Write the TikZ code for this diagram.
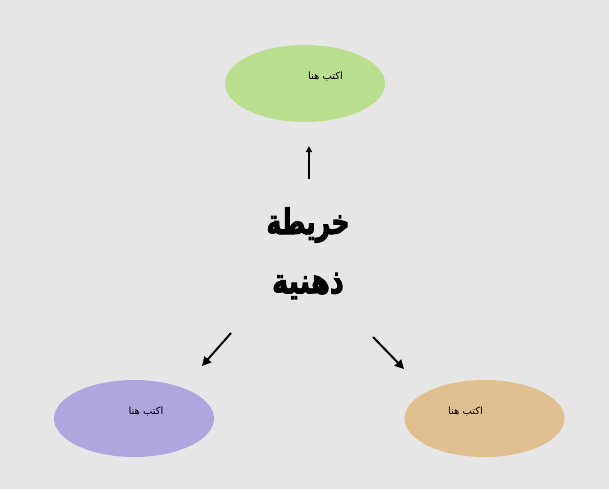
\documentclass[tikz,border=0pt]{standalone}
\usepackage{fontspec}
\usetikzlibrary{arrows.meta,shapes.geometric}
\TeXXeTstate=1
\newfontfamily\arabicfont[Script=Arabic]{DejaVu Sans}
\newfontfamily\arabictitle[Script=Arabic,FakeBold=3]{DejaVu Sans Bold}
\definecolor{bg}{HTML}{E6E6E6}
\definecolor{greenfill}{HTML}{BBDE8F}
\definecolor{purplefill}{HTML}{AEA7DE}
\definecolor{tanfill}{HTML}{DFC090}
\tikzset{
  bubble/.style={ellipse, minimum width=160pt, minimum height=77pt, inner sep=0pt, draw=none},
  smalltext/.style={font=\arabicfont\fontsize{10}{12}\selectfont, inner sep=0pt},
  titletext/.style={font=\arabictitle\fontsize{35}{38}\selectfont, inner sep=0pt},
  arrowline/.style={line width=2pt, -{Triangle[length=9pt,width=9pt]}},
  uparrow/.style={line width=2pt, -{Triangle[length=6pt,width=6pt]}}
}
\begin{document}
\begin{tikzpicture}[x=1pt,y=-1pt]
\fill[bg] (0,0) rectangle (609,489);
\useasboundingbox (0,0) rectangle (609,489);
\node[bubble, fill=greenfill] (top) at (305,83.5) {};
\node[bubble, fill=purplefill] (left) at (134,418.5) {};
\node[bubble, fill=tanfill] (right) at (484.5,418.5) {};
\node[smalltext] (toptext) at (325.5,77) {\beginR اكتب هنا\endR};
\node[smalltext] (lefttext) at (146,412) {\beginR اكتب هنا\endR};
\node[smalltext] (righttext) at (465.5,412) {\beginR اكتب هنا\endR};
\node[titletext] (title1) at (308,225) {\scalebox{0.72}[1]{\beginR خريطة\endR}};
\node[titletext] (title2) at (308,286) {\scalebox{0.78}[1]{\beginR ذهنية\endR}};
\coordinate (a1s) at (309,179);
\coordinate (a1e) at (309,146);
\coordinate (a2s) at (231,333);
\coordinate (a2e) at (202,366);
\coordinate (a3s) at (373,337);
\coordinate (a3e) at (404,369);
\draw[uparrow] (a1s) -- (a1e);
\draw[arrowline] (a2s) -- (a2e);
\draw[arrowline] (a3s) -- (a3e);
\end{tikzpicture}
\end{document}
